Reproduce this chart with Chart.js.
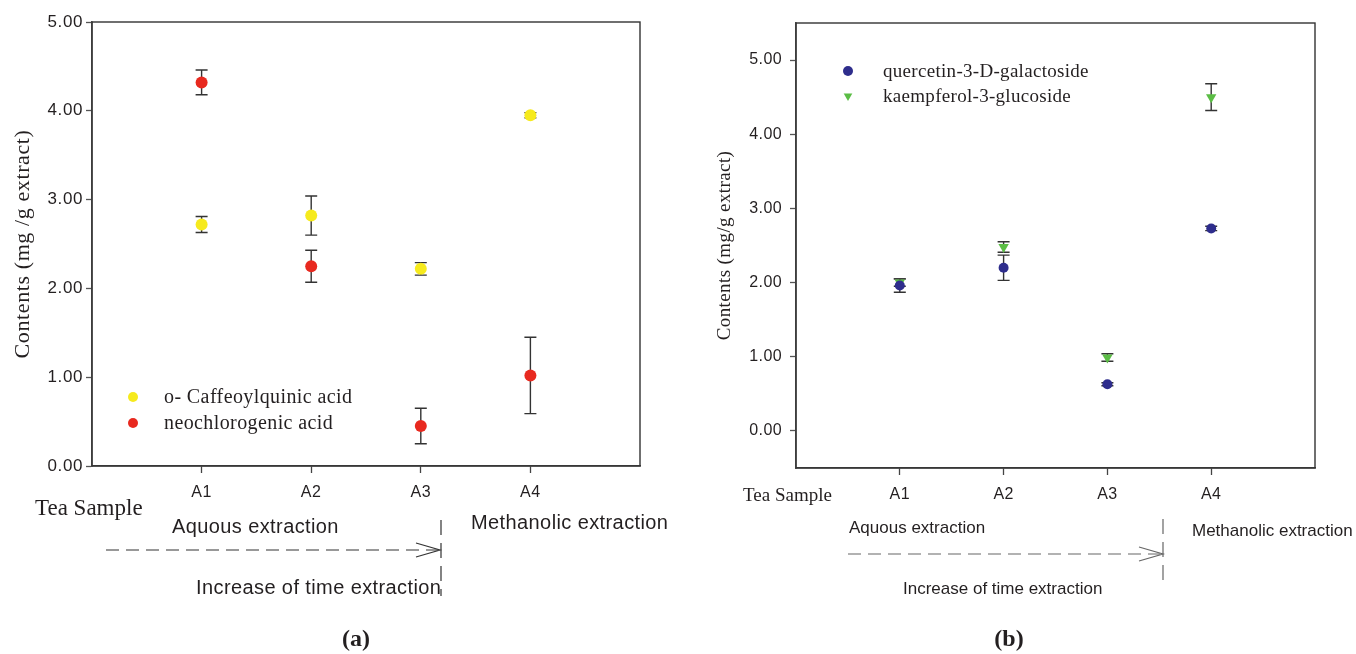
<!DOCTYPE html>
<html>
<head>
<meta charset="utf-8">
<script src="https://cdn.jsdelivr.net/npm/chart.js@4.4.0/dist/chart.umd.min.js"></script>
<style>
  html, body { margin: 0; padding: 0; background: #fff; }
  #page { position: relative; width: 1356px; height: 654px; overflow: hidden; }
  .box { position: absolute; top: 0; width: 678px; height: 654px; }
  .note { position: absolute; white-space: nowrap; line-height: 1; transform: translateY(-50%);
          color: #231f20; font-family: "Liberation Sans", Arial, sans-serif; }
  .wide { letter-spacing: 0.4px; }
  .serif { font-family: "Liberation Serif", "Times New Roman", serif; }
  .tag { font-family: "Liberation Serif", serif; font-weight: bold; font-size: 24px; transform: translate(-50%, -50%); }
  svg { position: absolute; left: 0; top: 0; }
</style>
</head>
<body>
<div id="page">
  <div class="box" style="left:0"><canvas id="chartA" width="678" height="654"></canvas></div>
  <div class="box" style="left:678px"><canvas id="chartB" width="678" height="654"></canvas></div>

  <svg width="1356" height="654">
    <g fill="none" stroke="#333" stroke-width="1.2">
      <line x1="106" y1="550" x2="438" y2="550" stroke-dasharray="13 7"/>
      <polyline points="416,543 440,550 416,557"/>
      <line x1="441" y1="520" x2="441" y2="596" stroke-dasharray="15 8"/>
    </g>
    <g fill="none" stroke="#666" stroke-width="1.2">
      <line x1="848" y1="554" x2="1160" y2="554" stroke-dasharray="13 7"/>
      <polyline points="1139,547 1163,554 1139,561"/>
      <line x1="1163" y1="519" x2="1163" y2="583" stroke-dasharray="15 8"/>
    </g>
  </svg>

  <div class="note serif" style="left:35px; top:507px; font-size:23px">Tea Sample</div>
  <div class="note wide" style="left:172px; top:526px; font-size:20px">Aquous extraction</div>
  <div class="note wide" style="left:471px; top:522px; font-size:20px">Methanolic extraction</div>
  <div class="note wide" style="left:196px; top:587px; font-size:20px">Increase of time extraction</div>
  <div class="note tag" style="left:356px; top:638px">(a)</div>

  <div class="note serif" style="left:743px; top:494px; font-size:19px">Tea Sample</div>
  <div class="note" style="left:849px; top:527px; font-size:17px">Aquous extraction</div>
  <div class="note" style="left:1192px; top:530px; font-size:17px">Methanolic extraction</div>
  <div class="note" style="left:903px; top:588px; font-size:17px">Increase of time extraction</div>
  <div class="note tag" style="left:1009px; top:638px">(b)</div>
</div>

<script>
// tea samples on the x axis
const samples = ['A1', 'A2', 'A3', 'A4'];
const yTicks = [0, 1, 2, 3, 4, 5];

// (a) phenolic acids, mg/g extract, mean and error
const caffeoyl = [2.72, 2.82, 2.22, 3.95];
const caffeoylErr = [0.09, 0.22, 0.07, 0.03];
const neochloro = [4.32, 2.25, 0.45, 1.02];
const neochloroErr = [0.14, 0.18, 0.20, 0.43];

// (b) flavonol glycosides
const quercetin = [1.96, 2.20, 0.63, 2.73];
const quercetinErr = [0.09, 0.17, 0.02, 0.03];
const kaempferol = [2.00, 2.48, 0.99, 4.50];
const kaempferolErr = [0.05, 0.07, 0.05, 0.18];

const sans = '"Liberation Sans", Arial, sans-serif';
const serif = '"Liberation Serif", "Times New Roman", serif';
const ink = '#231f20';

function points(values) {
  return values.map((v, i) => ({ x: i + 1, y: v }));
}

// the source figure's lettering runs a bit wide
const spacing = {
  id: 'spacing',
  beforeDraw(chart, args, opts) { chart.ctx.letterSpacing = opts.px + 'px'; },
  afterDraw(chart) { chart.ctx.letterSpacing = '0px'; }
};

const errorBars = {
  id: 'errorBars',
  beforeDatasetsDraw(chart, args, opts) {
    const { ctx, scales: { x, y } } = chart;
    ctx.save();
    ctx.strokeStyle = opts.color;
    ctx.lineWidth = opts.width;
    chart.data.datasets.forEach(ds => {
      ds.data.forEach((p, i) => {
        const e = ds.errors[i];
        const px = x.getPixelForValue(p.x);
        const top = y.getPixelForValue(p.y + e);
        const bot = y.getPixelForValue(p.y - e);
        ctx.beginPath();
        ctx.moveTo(px, top); ctx.lineTo(px, bot);
        ctx.moveTo(px - opts.cap, top); ctx.lineTo(px + opts.cap, top);
        ctx.moveTo(px - opts.cap, bot); ctx.lineTo(px + opts.cap, bot);
        ctx.stroke();
      });
    });
    ctx.restore();
  }
};

// box around the plot
const frame = {
  id: 'frame',
  afterDatasetsDraw(chart) {
    const { ctx, chartArea: a } = chart;
    ctx.save();
    ctx.strokeStyle = '#333';
    ctx.lineWidth = 1.4;
    ctx.strokeRect(a.left, a.top, a.right - a.left, a.bottom - a.top);
    ctx.restore();
  }
};

// legend sitting inside the plot area
const insideLegend = {
  id: 'insideLegend',
  afterDraw(chart, args, opts) {
    const ctx = chart.ctx;
    ctx.save();
    chart.data.datasets.forEach((ds, i) => {
      const y = opts.y + i * opts.gap;
      ctx.fillStyle = ds.backgroundColor;
      ctx.strokeStyle = ds.backgroundColor;
      Chart.helpers.drawPoint(ctx, { pointStyle: ds.pointStyle, radius: opts.r, rotation: ds.rotation || 0, borderWidth: 0 }, opts.x, y);
      ctx.fillStyle = ink;
      ctx.font = opts.font;
      ctx.letterSpacing = opts.spacing;
      ctx.textBaseline = 'middle';
      ctx.fillText(ds.label, opts.textX, y + 1);
    });
    ctx.restore();
  }
};

function makeOptions(cfg) {
  return {
    responsive: false,
    animation: false,
    layout: { padding: { left: 0, right: cfg.padRight, top: cfg.padTop, bottom: 0 } },
    plugins: {
      legend: { display: false },
      tooltip: { enabled: false },
      spacing: { px: cfg.spacing },
      errorBars: { color: '#333', width: 1.4, cap: 6 },
      insideLegend: cfg.legend
    },
    scales: {
      x: {
        type: 'linear', min: 0, max: 5,
        afterBuildTicks: s => { s.ticks = samples.map((c, i) => ({ value: i + 1 })); },
        afterFit: s => { s.height = cfg.xHeight; },
        ticks: { callback: v => samples[v - 1], color: ink, padding: 10, maxRotation: 0,
                 font: { family: sans, size: 16 } },
        grid: { drawOnChartArea: false, drawTicks: true, tickLength: 7, tickColor: '#444', tickWidth: 1.3 },
        border: { display: true, color: '#444', width: 1.4 }
      },
      y: {
        min: cfg.yMin, max: cfg.yMax,
        afterBuildTicks: s => { s.ticks = yTicks.map(v => ({ value: v })); },
        afterFit: s => { s.width = cfg.yWidth; },
        ticks: { callback: v => v.toFixed(2), color: ink, padding: cfg.tickPad,
                 font: { family: sans, size: cfg.tickSize } },
        grid: { drawOnChartArea: false, drawTicks: true, tickLength: 6, tickColor: '#555', tickWidth: 1.3 },
        border: { display: true, color: '#555', width: 1.6 },
        title: { display: true, text: cfg.yTitle, color: ink, padding: { top: cfg.titlePad, bottom: 0 },
                 font: { family: serif, size: cfg.titleSize } }
      }
    }
  };
}

new Chart(document.getElementById('chartA'), {
  type: 'scatter',
  data: {
    datasets: [
      { label: 'o- Caffeoylquinic acid', data: points(caffeoyl), errors: caffeoylErr,
        backgroundColor: '#f6ea1d', borderWidth: 0, pointRadius: 6, pointStyle: 'circle' },
      { label: 'neochlorogenic acid', data: points(neochloro), errors: neochloroErr,
        backgroundColor: '#e8291f', borderWidth: 0, pointRadius: 6, pointStyle: 'circle' }
    ]
  },
  options: makeOptions({
    padRight: 38, padTop: 22, xHeight: 188, yWidth: 92, yMin: 0, yMax: 5, tickPad: 3, spacing: 0.6,
    tickSize: 17, yTitle: 'Contents (mg /g extract)', titleSize: 22, titlePad: 10,
    legend: { x: 133, y: 397, gap: 26, r: 5, textX: 164, font: '20px ' + serif, spacing: '0.4px' }
  }),
  plugins: [spacing, errorBars, frame, insideLegend]
});

new Chart(document.getElementById('chartB'), {
  type: 'scatter',
  data: {
    datasets: [
      { label: 'quercetin-3-D-galactoside', data: points(quercetin), errors: quercetinErr,
        backgroundColor: '#2e2d8c', borderWidth: 0, pointRadius: 5, pointStyle: 'circle' },
      { label: 'kaempferol-3-glucoside', data: points(kaempferol), errors: kaempferolErr,
        backgroundColor: '#5bbd45', borderWidth: 0, pointRadius: 6, pointStyle: 'triangle', rotation: 180 }
    ]
  },
  options: makeOptions({
    padRight: 41, padTop: 23, xHeight: 186, yWidth: 118, yMin: -0.5, yMax: 5.5, tickPad: 8, spacing: 0.4,
    tickSize: 16, yTitle: 'Contents (mg/g extract)', titleSize: 19, titlePad: 36,
    legend: { x: 170, y: 71, gap: 25, r: 5, textX: 205, font: '19px ' + serif, spacing: '0.3px' }
  }),
  plugins: [spacing, errorBars, frame, insideLegend]
});
</script>
</body>
</html>
